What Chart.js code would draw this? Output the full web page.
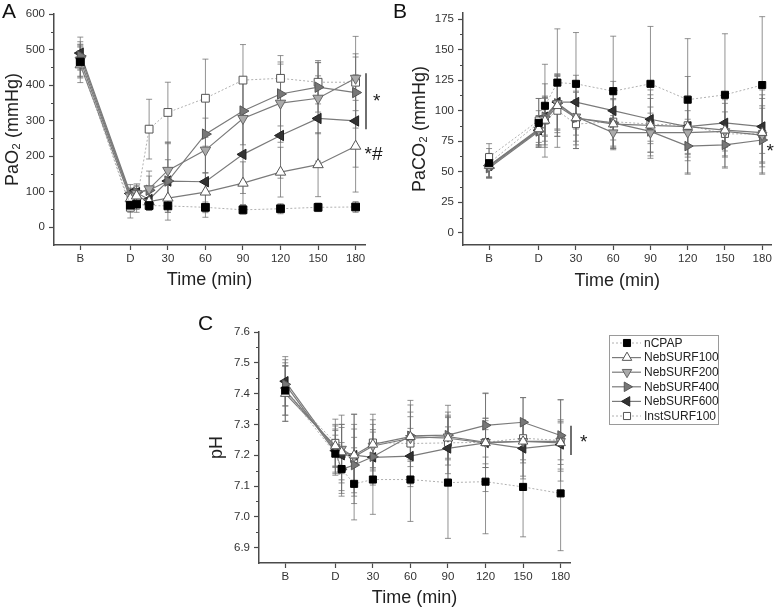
<!DOCTYPE html>
<html>
<head>
<meta charset="utf-8">
<script src="https://cdn.jsdelivr.net/npm/chart.js@4.4.1/dist/chart.umd.min.js"></script>
<style>
  html, body { margin: 0; padding: 0; background: #fff; }
  #fig { position: relative; width: 778px; height: 612px; overflow: hidden; font-family: 'Liberation Sans', Arial, sans-serif; }
  #fig canvas { position: absolute; }
  .panel { position: absolute; font-size: 21px; line-height: 1; color: #111; }
</style>
</head>
<body>
<div id="fig">
  <canvas id="chartA" width="390" height="300" style="left:0;top:0"></canvas>
  <canvas id="chartB" width="388" height="300" style="left:390px;top:0"></canvas>
  <canvas id="chartC" width="598" height="312" style="left:180px;top:300px"></canvas>
  <div class="panel" style="left:2px;top:0px">A</div>
  <div class="panel" style="left:393px;top:0px">B</div>
  <div class="panel" style="left:198px;top:312px">C</div>
</div>
<script>
// time points: B (baseline), D (after depletion), then minutes
const times = [-40, 0, 5, 15, 30, 60, 90, 120, 150, 180];
const xTickValues = [-40, 0, 30, 60, 90, 120, 150, 180];
const xTickLabels = ["B", "D", "30", "60", "90", "120", "150", "180"];
const groups = ["nCPAP", "NebSURF100", "NebSURF200", "NebSURF400", "NebSURF600", "InstSURF100"];

// PaO2 (mmHg), one row per group
const pao2Mean = [
  [465, 62, 65, 61, 60, 56, 49, 52, 56, 57],
  [457, 80, 88, 72, 82, 99, 124, 155, 176, 228],
  [470, 88, 95, 108, 160, 217, 306, 349, 363, 419],
  [482, 90, 98, 104, 130, 262, 327, 375, 394, 379],
  [490, 95, 97, 78, 130, 128, 205, 258, 306, 299],
  [468, 56, 72, 276, 323, 363, 414, 419, 408, 408]
];
const pao2Sd = [
  [45, 20, 15, 12, 18, 15, 12, 14, 12, 15],
  [50, 25, 20, 25, 40, 55, 60, 70, 90, 129],
  [45, 20, 20, 50, 75, 90, 100, 110, 100, 118],
  [40, 20, 20, 40, 110, 110, 95, 90, 70, 100],
  [45, 25, 25, 30, 60, 100, 110, 120, 120, 130],
  [45, 30, 30, 84, 85, 110, 100, 64, 61, 80]
];
const pao2Ticks = [0, 100, 200, 300, 400, 500, 600];

// PaCO2 (mmHg)
const paco2Mean = [
  [57, 90, 104, 123, 122, 116, 122, 109, 113, 121],
  [55, 85, 92, 104, 94, 89, 88, 87, 84, 82],
  [54, 84, 93, 106, 95, 82, 82, 82, 83, 80],
  [53, 83, 95, 106, 94, 90, 83, 71, 72, 76],
  [55, 84, 95, 107, 107, 100, 93, 87, 90, 87],
  [62, 92, 92, 100, 89, 91, 89, 88, 81, 81]
];
const paco2Sd = [
  [12, 20, 34, 44, 42, 45, 47, 50, 50, 56],
  [10, 15, 20, 25, 25, 20, 22, 25, 22, 28],
  [9, 12, 18, 22, 20, 14, 16, 18, 16, 22],
  [8, 12, 16, 24, 22, 20, 20, 22, 18, 28],
  [9, 12, 15, 22, 22, 24, 20, 22, 20, 30],
  [11, 18, 30, 30, 20, 22, 28, 40, 28, 32]
];
const paco2Ticks = [0, 25, 50, 75, 100, 125, 150, 175];

// pH
const phMean = [
  [7.41, 7.205, 7.155, 7.107, 7.121, 7.121, 7.111, 7.114, 7.097, 7.076],
  [7.40, 7.23, 7.21, 7.20, 7.235, 7.26, 7.255, 7.24, 7.245, 7.24],
  [7.41, 7.225, 7.22, 7.195, 7.23, 7.255, 7.26, 7.242, 7.245, 7.245],
  [7.43, 7.21, 7.154, 7.168, 7.195, 7.263, 7.265, 7.297, 7.307, 7.264],
  [7.44, 7.215, 7.20, 7.20, 7.193, 7.197, 7.222, 7.24, 7.222, 7.235],
  [7.41, 7.24, 7.203, 7.188, 7.241, 7.238, 7.24, 7.242, 7.255, 7.248]
];
const phSd = [
  [0.08, 0.06, 0.07, 0.117, 0.113, 0.136, 0.181, 0.169, 0.162, 0.186],
  [0.09, 0.07, 0.09, 0.10, 0.08, 0.08, 0.07, 0.08, 0.07, 0.07],
  [0.08, 0.06, 0.08, 0.09, 0.07, 0.07, 0.07, 0.07, 0.06, 0.06],
  [0.07, 0.07, 0.087, 0.09, 0.08, 0.10, 0.097, 0.103, 0.08, 0.116],
  [0.08, 0.08, 0.09, 0.133, 0.09, 0.09, 0.10, 0.08, 0.09, 0.08],
  [0.10, 0.077, 0.127, 0.145, 0.092, 0.14, 0.10, 0.16, 0.132, 0.132]
];
const phTicks = [6.9, 7.0, 7.1, 7.2, 7.3, 7.4, 7.5, 7.6];

Chart.defaults.font.family = "'Liberation Sans', Arial, sans-serif";
const axisColor = "#4a4a4a";

const looks = [
  { style: "rect", rot: 0, fill: "#000", edge: "#000", line: "#b0b0b0", width: 1, dash: [2, 2] },
  { style: "triangle", rot: 0, fill: "#fff", edge: "#555", line: "#7a7a7a", width: 1.2, dash: [] },
  { style: "triangle", rot: 180, fill: "#aaa", edge: "#666", line: "#7a7a7a", width: 1.2, dash: [] },
  { style: "triangle", rot: 90, fill: "#777", edge: "#555", line: "#7a7a7a", width: 1.2, dash: [] },
  { style: "triangle", rot: 270, fill: "#333", edge: "#222", line: "#7a7a7a", width: 1.2, dash: [] },
  { style: "rect", rot: 0, fill: "#fff", edge: "#555", line: "#b0b0b0", width: 1, dash: [2, 2] }
];

// error bars drawn from the dataset's sd list through the scales
const errorBars = {
  id: "errorBars",
  beforeDatasetsDraw(chart) {
    const { ctx, scales: { x, y } } = chart;
    ctx.save();
    ctx.strokeStyle = "rgba(110,110,110,0.75)";
    ctx.lineWidth = 1;
    chart.data.datasets.forEach(ds => {
      ds.data.forEach((p, j) => {
        const px = x.getPixelForValue(p.x);
        const top = y.getPixelForValue(p.y + ds.errors[j]);
        const bot = y.getPixelForValue(p.y - ds.errors[j]);
        ctx.beginPath();
        ctx.moveTo(px, top); ctx.lineTo(px, bot);
        ctx.moveTo(px - 3, top); ctx.lineTo(px + 3, top);
        ctx.moveTo(px - 3, bot); ctx.lineTo(px + 3, bot);
        ctx.stroke();
      });
    });
    ctx.restore();
  }
};

// short minor ticks on the y axis plus significance marks
const extras = {
  id: "extras",
  afterDraw(chart, args, opts) {
    const { ctx, chartArea, scales: { x, y } } = chart;
    ctx.save();
    ctx.strokeStyle = axisColor;
    ctx.lineWidth = 1.2;
    ctx.beginPath();
    opts.minor.forEach(v => {
      const py = Math.round(y.getPixelForValue(v)) + 0.5;
      ctx.moveTo(chartArea.left - 3, py); ctx.lineTo(chartArea.left, py);
    });
    ctx.stroke();
    ctx.strokeStyle = "#222";
    ctx.lineWidth = 1.3;
    (opts.lines || []).forEach(l => {
      ctx.beginPath();
      ctx.moveTo(chartArea.right + 1, y.getPixelForValue(l.y1));
      ctx.lineTo(chartArea.right + 1, y.getPixelForValue(l.y2));
      ctx.stroke();
    });
    ctx.fillStyle = "#1a1a1a";
    ctx.font = "19px 'Liberation Sans', Arial";
    ctx.textBaseline = "middle";
    (opts.texts || []).forEach(t => {
      ctx.textAlign = t.align || "center";
      ctx.fillText(t.text, x.getPixelForValue(t.x) + t.dx, y.getPixelForValue(t.y) + 4);
    });
    ctx.restore();
  }
};

const boxLegend = {
  id: "boxLegend",
  afterDraw(chart, args, opts) {
    if (!opts.show) return;
    const ctx = chart.ctx;
    const left = chart.chartArea.right + 39, top = 35, w = 109, rowH = 14.6;
    ctx.save();
    ctx.strokeStyle = "#9a9a9a";
    ctx.lineWidth = 1;
    ctx.strokeRect(left + 0.5, top + 0.5, w, 89);
    chart.data.datasets.forEach((ds, i) => {
      const y = top + 8 + i * rowH;
      ctx.strokeStyle = ds.borderColor;
      ctx.lineWidth = ds.borderWidth;
      ctx.setLineDash(ds.borderDash);
      ctx.beginPath(); ctx.moveTo(left + 3, y); ctx.lineTo(left + 32, y); ctx.stroke();
      ctx.setLineDash([]);
      ctx.fillStyle = ds.pointBackgroundColor;
      ctx.strokeStyle = ds.pointBorderColor;
      ctx.lineWidth = 1;
      Chart.helpers.drawPoint(ctx, { pointStyle: ds.pointStyle, rotation: ds.pointRotation, radius: ds.pointRadius, borderWidth: 1 }, left + 18, y);
      ctx.fillStyle = "#222";
      ctx.font = "12px 'Liberation Sans', Arial";
      ctx.textAlign = "left";
      ctx.textBaseline = "middle";
      ctx.fillText(ds.label, left + 35, y + 0.5);
    });
    ctx.restore();
  }
};

function makeChart(id, cfg) {
  return new Chart(document.getElementById(id), {
    type: "line",
    data: {
      datasets: groups.map((name, i) => ({
        label: name,
        data: times.map((t, j) => ({ x: t, y: cfg.means[i][j] })),
        errors: cfg.sds[i],
        borderColor: looks[i].line,
        borderWidth: looks[i].width,
        borderDash: looks[i].dash,
        pointStyle: looks[i].style,
        pointRotation: looks[i].rot,
        pointBackgroundColor: looks[i].fill,
        pointBorderColor: looks[i].edge,
        pointBorderWidth: 1,
        pointRadius: looks[i].style === "rect" ? cfg.rectR : cfg.triR,
        tension: 0,
        fill: false
      }))
    },
    options: {
      responsive: false,
      animation: false,
      devicePixelRatio: 1,
      layout: { padding: cfg.padding },
      plugins: {
        legend: { display: false },
        tooltip: { enabled: false },
        extras: { minor: cfg.minor, lines: cfg.lines, texts: cfg.texts },
        boxLegend: { show: !!cfg.legend }
      },
      scales: {
        x: {
          type: "linear",
          min: -61,
          max: 187.5,
          afterBuildTicks: s => { s.ticks = xTickValues.map(v => ({ value: v })); },
          afterFit: s => { s.height = cfg.xHeight; },
          ticks: { callback: (v, i) => xTickLabels[i], font: { size: 11.5 }, color: "#333", padding: 2, autoSkip: false, maxRotation: 0 },
          grid: { drawOnChartArea: false, drawTicks: true, tickLength: 5, tickColor: axisColor, tickWidth: 1.2 },
          border: { display: true, color: axisColor, width: 1.5 },
          title: { display: true, text: "Time (min)", font: { size: 18 }, color: "#222", padding: { top: 0, bottom: cfg.titleBottom } }
        },
        y: {
          type: "linear",
          min: cfg.yMin,
          max: cfg.yMax,
          afterBuildTicks: s => { s.ticks = cfg.yTicks.map(v => ({ value: v })); },
          afterFit: s => { s.width = cfg.yWidth; },
          ticks: { callback: v => cfg.decimals ? v.toFixed(cfg.decimals) : String(v), font: { size: 11.5 }, color: "#333", padding: 4 },
          grid: { drawOnChartArea: false, drawTicks: true, tickLength: 5, tickColor: axisColor, tickWidth: 1.2 },
          border: { display: true, color: axisColor, width: 1.5 },
          title: { display: true, text: cfg.yTitle, font: { size: 18 }, color: "#222", padding: { top: 2, bottom: 0 } }
        }
      }
    },
    plugins: [errorBars, extras, boxLegend]
  });
}

makeChart("chartA", {
  means: pao2Mean, sds: pao2Sd, yMin: -50, yMax: 600, yTicks: pao2Ticks,
  minor: [50, 150, 250, 350, 450, 550], yTitle: "PaO₂ (mmHg)", decimals: 0,
  padding: { left: 0, top: 14, right: 25, bottom: 0 }, yWidth: 54, xHeight: 55, titleBottom: 9,
  rectR: 5.5, triR: 6,
  lines: [{ y1: 433, y2: 276 }],
  texts: [{ text: "*", x: 180, dx: 21, y: 363 }, { text: "*#", x: 180, dx: 9, y: 216, align: "left" }]
});

makeChart("chartB", {
  means: paco2Mean, sds: paco2Sd, yMin: -10, yMax: 180, yTicks: paco2Ticks,
  minor: [12.5, 37.5, 62.5, 87.5, 112.5, 137.5, 162.5], yTitle: "PaCO₂ (mmHg)", decimals: 0,
  padding: { left: 17, top: 13, right: 5, bottom: 0 }, yWidth: 56, xHeight: 55, titleBottom: 8,
  rectR: 5, triR: 5.5,
  lines: [],
  texts: [{ text: "*", x: 180, dx: 8, y: 70 }]
});

makeChart("chartC", {
  means: phMean, sds: phSd, yMin: 6.85, yMax: 7.6, yTicks: phTicks,
  minor: [6.95, 7.05, 7.15, 7.25, 7.35, 7.45, 7.55], yTitle: "pH", decimals: 1,
  padding: { left: 24, top: 32, right: 208, bottom: 0 }, yWidth: 55, xHeight: 49, titleBottom: 3,
  rectR: 5, triR: 5.5, legend: true,
  lines: [{ y1: 7.296, y2: 7.201 }],
  texts: [{ text: "*", x: 180, dx: 23, y: 7.253 }]
});
</script>
</body>
</html>
